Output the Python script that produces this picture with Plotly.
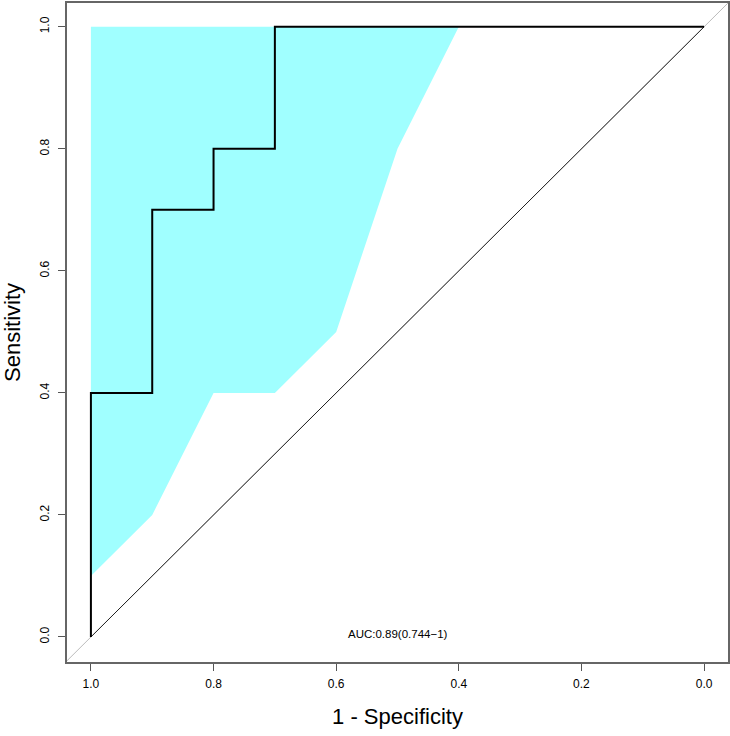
import plotly.graph_objects as go

# ROC curve (specificity, sensitivity)
roc_spec = [1.0, 1.0, 0.9, 0.9, 0.8, 0.8, 0.7, 0.7, 0.0]
roc_sens = [0.0, 0.4, 0.4, 0.7, 0.7, 0.8, 0.8, 1.0, 1.0]

# confidence band of sensitivity
ci_spec = [1.0, 0.9, 0.8, 0.7, 0.6, 0.5, 0.4, 0.0]
ci_low = [0.1, 0.2, 0.4, 0.4, 0.5, 0.8, 1.0, 1.0]
ci_high = [1.0, 1.0, 1.0, 1.0, 1.0, 1.0, 1.0, 1.0]

ticks = [1.0, 0.8, 0.6, 0.4, 0.2, 0.0]
tick_labels = ["1.0", "0.8", "0.6", "0.4", "0.2", "0.0"]
auc_text = "AUC:0.89(0.744\u22121)"

fnt = "Liberation Sans, Arial, sans-serif"

fig = go.Figure()

# band polygon: upper edge then lower edge reversed
band_x = ci_spec + ci_spec[::-1]
band_y = ci_high + ci_low[::-1]
fig.add_trace(go.Scatter(x=band_x, y=band_y, fill="toself", mode="none",
                         fillcolor="#A0FFFF", showlegend=False, hoverinfo="skip"))

# grey identity line over the whole plot region
fig.add_trace(go.Scatter(x=[1.2, -0.2], y=[-0.2, 1.2], mode="lines",
                         line=dict(color="#BBBBBB", width=1), showlegend=False))
# black diagonal
fig.add_trace(go.Scatter(x=[1.0, 0.0], y=[0.0, 1.0], mode="lines",
                         line=dict(color="#222222", width=1), showlegend=False))
# roc curve
fig.add_trace(go.Scatter(x=roc_spec, y=roc_sens, mode="lines",
                         line=dict(color="black", width=2), showlegend=False))

fig.add_annotation(x=0.5, y=0.0, text=auc_text, showarrow=False,
                   xanchor="center", yanchor="middle", yshift=3,
                   font=dict(family=fnt, size=11.5, color="black"))

axis_common = dict(showgrid=False, zeroline=False, showline=True, mirror=True,
                   linecolor="#666666", linewidth=1.5, ticks="outside", ticklen=7,
                   tickcolor="#555555", tickwidth=1, automargin=False,
                   tickfont=dict(family=fnt, size=12, color="black"),
                   tickvals=ticks, ticktext=tick_labels)

fig.update_xaxes(range=[1.039, -0.039], title=dict(text="1 - Specificity",
                 font=dict(family=fnt, size=22, color="black"), standoff=18),
                 ticklabelstandoff=3, **axis_common)
fig.update_yaxes(range=[-0.041, 1.039], tickangle=-90, ticklabelstandoff=4,
                 title=dict(text="Sensitivity",
                            font=dict(family=fnt, size=22, color="black"), standoff=12),
                 **axis_common)

fig.update_layout(width=730, height=736, plot_bgcolor="white", paper_bgcolor="white",
                  margin=dict(l=67, r=2, t=3, b=74))

# drop the default page margin so the figure sits at the window corner
fig.write_html("out.html", config={"displayModeBar": False},
               post_script="document.body.style.margin='0';document.body.style.overflow='hidden';")
